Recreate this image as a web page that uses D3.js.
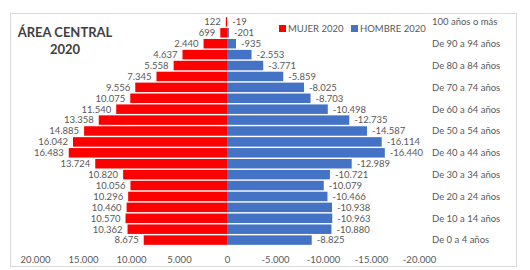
<!DOCTYPE html>
<html><head><meta charset="utf-8">
<script src="https://cdn.jsdelivr.net/npm/d3@7"></script>
<style>body{margin:0;background:#fff}svg text{font-family:Lato,"Liberation Sans",sans-serif}</style>
</head><body>
<svg id="c" width="530" height="270"></svg>
<script>
const categories = ["100 años o más","De 95 a 99 años","De 90 a 94 años","De 85 a 89 años","De 80 a 84 años","De 75 a 79 años","De 70 a 74 años","De 65 a 69 años","De 60 a 64 años","De 55 a 59 años","De 50 a 54 años","De 45 a 49 años","De 40 a 44 años","De 35 a 39 años","De 30 a 34 años","De 25 a 29 años","De 20 a 24 años","De 15 a 19 años","De 10 a 14 años","De 5 a 9 años","De 0 a 4 años"];
const mujer = [122,699,2440,4637,5558,7345,9556,10075,11540,13358,14885,16042,16483,13724,10820,10056,10296,10460,10570,10362,8675];
const hombre = [-19,-201,-935,-2553,-3771,-5859,-8025,-8703,-10498,-12735,-14587,-16114,-16440,-12989,-10721,-10079,-10466,-10938,-10963,-10880,-8825];
const xTicks = [20000,15000,10000,5000,0,-5000,-10000,-15000,-20000];
const seriesNames = ["MUJER 2020","HOMBRE 2020"];
const colors = ["#FF0000","#4472C4"];

const loc = d3.formatLocale({decimal:",",thousands:".",grouping:[3],currency:["",""],minus:"-"});
const fmt = loc.format(",d");

const svg = d3.select("#c");
svg.append("rect").attr("x",10.5).attr("y",13.5).attr("width",506).attr("height",253)
  .attr("fill","#fff").attr("stroke","#D9D9D9");

const x = d3.scaleLinear().domain([20000,-20000]).range([35,419]);
const y = d3.scaleBand().domain(categories).range([16.5,245.5]).paddingInner(0.13).paddingOuter(0.06);

const g = svg.append("g");
g.selectAll(".m").data(mujer).join("rect")
  .attr("x",d=>x(d)).attr("width",d=>x(0)-x(d))
  .attr("y",(d,i)=>y(categories[i])).attr("height",y.bandwidth()).attr("fill",colors[0]);
g.selectAll(".h").data(hombre).join("rect")
  .attr("x",x(0)).attr("width",d=>x(d)-x(0))
  .attr("y",(d,i)=>y(categories[i])).attr("height",y.bandwidth()).attr("fill",colors[1]);

const lab = {fill:"#595959","font-size":"9.5px"};
g.selectAll(".ml").data(mujer).join("text")
  .attr("x",d=>x(d)-5).attr("y",(d,i)=>y(categories[i])+y.bandwidth()/2)
  .attr("dy","0.35em").attr("text-anchor","end")
  .attr("fill",lab.fill).attr("font-size",lab["font-size"]).text(d=>fmt(d));
g.selectAll(".hl").data(hombre).join("text")
  .attr("x",d=>x(d)+5).attr("y",(d,i)=>y(categories[i])+y.bandwidth()/2)
  .attr("dy","0.35em").attr("text-anchor","start")
  .attr("fill",lab.fill).attr("font-size",lab["font-size"]).text(d=>fmt(d));

g.selectAll(".cl").data(categories.filter((c,i)=>i%2===0)).join("text")
  .attr("x",432).attr("y",d=>y(d)+y.bandwidth()/2).attr("dy","0.35em")
  .attr("fill","#595959").attr("font-size","9.5px").text(d=>d);

const ax = svg.append("g").attr("transform","translate(0,253)")
  .call(d3.axisBottom(x).tickValues(xTicks).tickSize(0).tickFormat(fmt));
ax.select(".domain").remove();
ax.selectAll("text").attr("fill","#595959").attr("font-size","9.5px")
  .attr("font-family","Lato,'Liberation Sans',sans-serif");

svg.append("text").attr("x",65).attr("y",37).attr("text-anchor","middle")
  .attr("font-weight","bold").attr("font-size","13px").attr("fill","#404040").text("ÁREA CENTRAL");
svg.append("text").attr("x",65).attr("y",54).attr("text-anchor","middle")
  .attr("font-weight","bold").attr("font-size","13px").attr("fill","#404040").text("2020");

const lg = svg.append("g");
const lx = [279,351];
seriesNames.forEach((n,i)=>{
  lg.append("rect").attr("x",lx[i]).attr("y",25).attr("width",7).attr("height",7).attr("fill",colors[i]);
  lg.append("text").attr("x",lx[i]+9).attr("y",28.5).attr("dy","0.35em")
    .attr("fill","#595959").attr("font-size","9.5px").text(n);
});
</script>
</body></html>
